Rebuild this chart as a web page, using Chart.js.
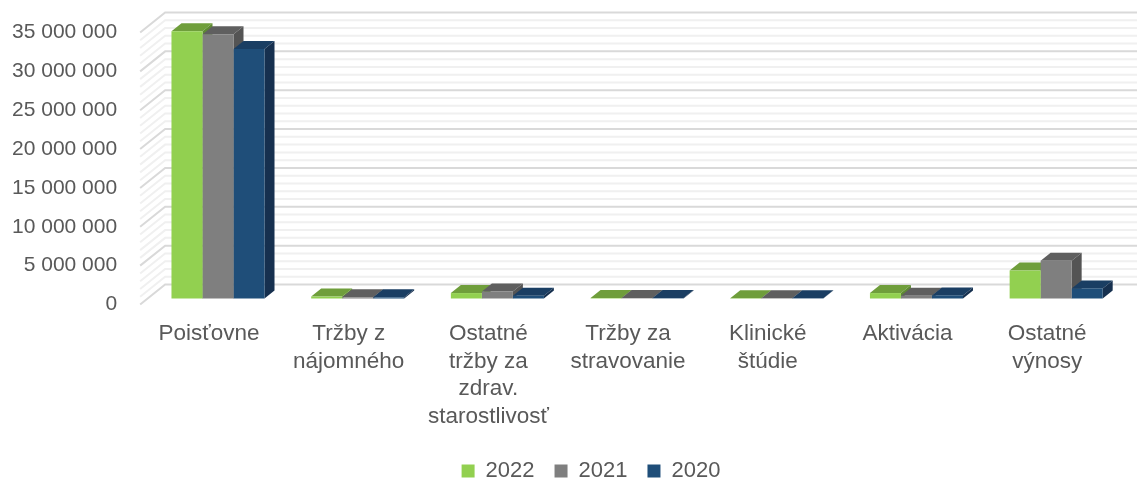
<!DOCTYPE html>
<html>
<head>
<meta charset="utf-8">
<script src="https://cdn.jsdelivr.net/npm/chart.js@4.4.1/dist/chart.umd.min.js"></script>
<style>
    html, body { margin: 0; padding: 0; background: #ffffff; }
    #wrap { width: 1137px; height: 484px; }
</style>
</head>
<body>
<div id="wrap"><canvas id="revenueChart" width="1137" height="484"></canvas></div>
<script>
const categories = [
    'Poisťovne',
    ['Tržby z', 'nájomného'],
    ['Ostatné', 'tržby za', 'zdrav.', 'starostlivosť'],
    ['Tržby za', 'stravovanie'],
    ['Klinické', 'štúdie'],
    'Aktivácia',
    ['Ostatné', 'výnosy'],
];
const seriesNames = ['2022', '2021', '2020'];
const values2022 = [34400000, 250000, 700000, 60000, 40000, 700000, 3600000];
const values2021 = [34000000, 150000, 900000, 50000, 30000, 350000, 4850000];
const values2020 = [32100000, 150000, 350000, 50000, 30000, 400000, 1300000];
const yTickStep = 5000000;
const yMinorStep = 1000000;
const yMax = 35000000;

// front / top / side colours per series
const faceColors = [
    { front: '#92D050', top: '#6F9E3B', side: '#5E8A32' },
    { front: '#7F7F7F', top: '#5F5F5F', side: '#545454' },
    { front: '#1F4E79', top: '#1A3E63', side: '#16304F' },
];

const barDepth = { dx: 10, dy: 8 };
const wallFront = { dx: -8, dy: 6 };
const wallBack = { dx: 17, dy: -14 };
const legendShift = 28;

const fmt = (v) => String(v).replace(/\B(?=(\d{3})+(?!\d))/g, ' ');

function poly(ctx, pts, color) {
    ctx.beginPath();
    ctx.moveTo(pts[0][0], pts[0][1]);
    for (let i = 1; i < pts.length; i++) {
        ctx.lineTo(pts[i][0], pts[i][1]);
    }
    ctx.closePath();
    ctx.fillStyle = color;
    ctx.fill();
}

// back wall + side wall grid, then top / side faces of each bar
const pseudo3d = {
    id: 'pseudo3d',
    afterLayout(chart) {
        // legend sits a bit right of centre in the original
        chart.legend.left += legendShift;
        chart.legend.right += legendShift;
    },
    beforeDatasetsDraw(chart) {
        const { ctx, chartArea, scales } = chart;
        const y = scales.y;
        ctx.save();
        ctx.lineWidth = 2;
        for (let v = 0; v <= yMax; v += yMinorStep) {
            const py = y.getPixelForValue(v);
            ctx.strokeStyle = v % yTickStep === 0 ? '#D9D9D9' : '#F0F0F0';
            ctx.beginPath();
            ctx.moveTo(chartArea.left + wallFront.dx, py + wallFront.dy);
            ctx.lineTo(chartArea.left + wallBack.dx, py + wallBack.dy);
            ctx.lineTo(chart.width, py + wallBack.dy);
            ctx.stroke();
        }

        const metas = chart.data.datasets.map((d, i) => chart.getDatasetMeta(i));
        for (let j = 0; j < categories.length; j++) {
            metas.forEach((meta, i) => {
                const el = meta.data[j];
                const { x, y: top, base, width } = el.getProps(['x', 'y', 'base', 'width'], true);
                const l = x - width / 2;
                const r = x + width / 2;
                const c = faceColors[i];
                poly(ctx, [[l, top], [l + barDepth.dx, top - barDepth.dy], [r + barDepth.dx, top - barDepth.dy], [r, top]], c.top);
                poly(ctx, [[r, top], [r + barDepth.dx, top - barDepth.dy], [r + barDepth.dx, base - barDepth.dy], [r, base]], c.side);
            });
        }
        ctx.restore();
    },
};

const textColor = '#595959';
const fontFamily = '"Liberation Sans", Arial, sans-serif';

new Chart(document.getElementById('revenueChart'), {
    type: 'bar',
    data: {
        labels: categories,
        datasets: [
            { label: seriesNames[0], data: values2022, backgroundColor: faceColors[0].front },
            { label: seriesNames[1], data: values2021, backgroundColor: faceColors[1].front },
            { label: seriesNames[2], data: values2020, backgroundColor: faceColors[2].front },
        ],
    },
    plugins: [pseudo3d],
    options: {
        responsive: false,
        animation: false,
        layout: {
            padding: { top: 26.5, left: 0, right: 11, bottom: 0 },
        },
        datasets: {
            bar: {
                categoryPercentage: 0.666,
                barPercentage: 1,
                borderWidth: 0,
                clip: false,
            },
        },
        plugins: {
            tooltip: { enabled: false },
            legend: {
                position: 'bottom',
                maxHeight: 44,
                labels: {
                    boxWidth: 13,
                    boxHeight: 13,
                    padding: 20,
                    color: textColor,
                    font: { family: fontFamily, size: 22 },
                },
            },
        },
        scales: {
            x: {
                grid: { display: false, drawTicks: false, tickLength: 0 },
                border: { display: false },
                afterFit(scale) {
                    scale.height = 141.5;
                },
                ticks: {
                    maxRotation: 0,
                    minRotation: 0,
                    autoSkip: false,
                    padding: 22,
                    labelOffset: -9,
                    color: textColor,
                    font: { family: fontFamily, size: 22.5, lineHeight: 1.22 },
                },
            },
            y: {
                min: 0,
                max: yMax,
                // hidden tick marks only used to push the labels left
                grid: { display: false, drawTicks: true, tickLength: 31 },
                border: { display: false },
                afterFit(scale) {
                    scale.width = 148.15;
                },
                ticks: {
                    stepSize: yTickStep,
                    padding: 0,
                    labelOffset: 6,
                    color: textColor,
                    font: { family: fontFamily, size: 21 },
                    callback(value) {
                        return fmt(value);
                    },
                },
            },
        },
    },
});
</script>
</body>
</html>
